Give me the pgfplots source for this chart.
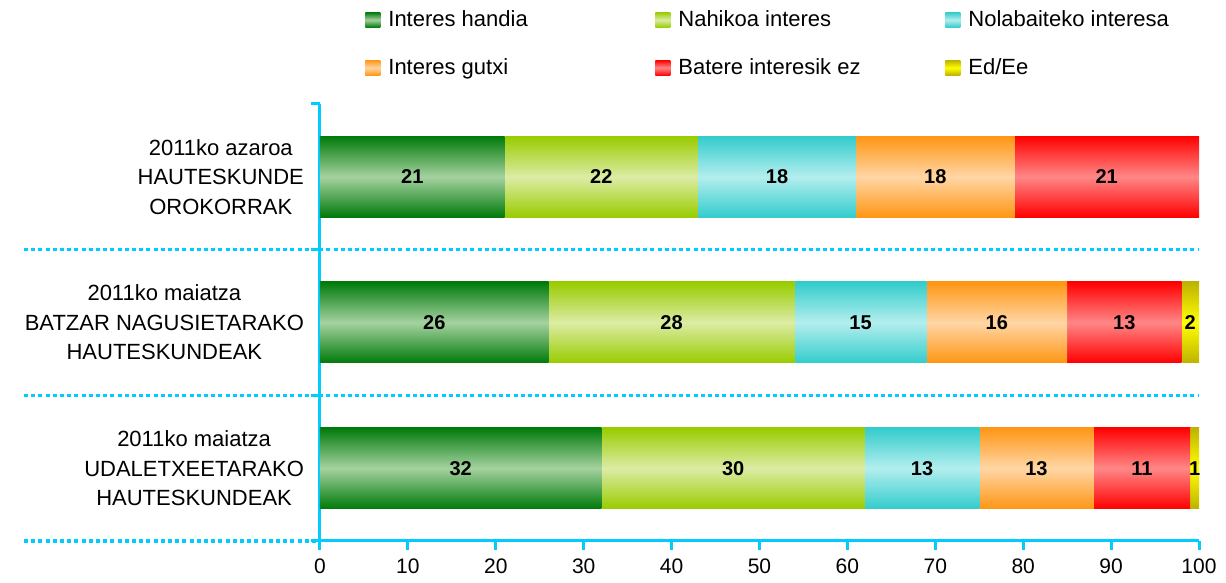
\documentclass[border=0pt]{standalone}
\usepackage{fontspec}
\setmainfont{Liberation Sans}
\usepackage{pgfplots}
\pgfplotsset{compat=1.18}

% bar colours: edge (dark) and centre (light) of the vertical gradient
\definecolor{axc}{RGB}{0,204,255}
\definecolor{ihD}{RGB}{0,122,10}
\definecolor{ihL}{RGB}{165,210,160}
\definecolor{nhD}{RGB}{153,204,0}
\definecolor{nhL}{RGB}{220,236,165}
\definecolor{noD}{RGB}{51,204,204}
\definecolor{noL}{RGB}{180,238,238}
\definecolor{igD}{RGB}{255,150,20}
\definecolor{igL}{RGB}{255,214,165}
\definecolor{bD}{RGB}{255,0,0}
\definecolor{bL}{RGB}{255,135,135}
\definecolor{eD}{RGB}{190,178,0}
\definecolor{eL}{RGB}{255,255,0}

% one axis per bar, so that every bar gets its own gradient
\pgfplotsset{
  seg/.style 2 args={draw=none, top color=#1, bottom color=#1, middle color=#2},
  base/.style={
    xbar stacked,
    scale only axis,
    width=439.5pt, height=218.5pt,
    xmin=0, xmax=100, ymin=-0.5, ymax=2.5,
    bar width=0.556,
    /pgf/number format/assume math mode=true,
    visualization depends on={rawx \as \rawx},
    nodes near coords={\ifdim\rawx pt>0pt\pgfmathprintnumber{\rawx}\fi},
    nodes near coords style={font=\bfseries\fontsize{10}{12}\selectfont,
      anchor=center},
  },
}
\tikzset{sepline/.style={axc, line width=1.6pt, dash pattern=on 2pt off 1.6pt}}

\begin{document}
\begin{tikzpicture}
\begin{axis}[
  base,
  clip=false,
  axis x line*=bottom, axis y line*=left,
  axis line style={axc, line width=1.5pt, -},
  xtick={0,10,...,100},
  ytick={0,1,2},
  yticklabels={{2011ko maiatza\\UDALETXEETARAKO\\HAUTESKUNDEAK},
               {2011ko maiatza\\BATZAR NAGUSIETARAKO\\HAUTESKUNDEAK},
               {2011ko azaroa\\HAUTESKUNDE\\OROKORRAK}},
  minor ytick={-0.5,0.5,1.5,2.5},
  tick align=outside,
  major tick length=4.5pt, minor tick length=4.5pt,
  tick style={axc, line width=1.5pt},
  major y tick style={draw=none},
  yticklabel style={align=center, font=\fontsize{11}{14.75}\selectfont},
  xticklabel style={font=\fontsize{10.5}{12}\selectfont, yshift=-1pt},
  legend columns=3,
  legend image code/.code={\path[#1] (0pt,-3.75pt) rectangle (7.5pt,3.75pt);
    \path (11pt,0pt);},
  legend style={at={(axis description cs:0,1)}, anchor=north west,
    xshift=22.5pt, yshift=47.5pt, draw=none, inner sep=0pt, row sep=13.5pt,
    font=\fontsize{11}{13}\selectfont, nodes={inner sep=0.5pt}},
]
% 2011ko maiatza, udaletxeetarako hauteskundeak
\addplot[seg={ihD}{ihL}] coordinates {(32,0)};
\addlegendentry{\makebox[133pt][l]{Interes handia}}
\addplot[seg={nhD}{nhL}] coordinates {(30,0)};
\addlegendentry{\makebox[133pt][l]{Nahikoa interes}}
\addplot[seg={noD}{noL}] coordinates {(13,0)};
\addlegendentry{\makebox[133pt][l]{Nolabaiteko interesa}}
\addplot[seg={igD}{igL}] coordinates {(13,0)};
\addlegendentry{\makebox[133pt][l]{Interes gutxi}}
\addplot[seg={bD}{bL}] coordinates {(11,0)};
\addlegendentry{\makebox[133pt][l]{Batere interesik ez}}
\addplot[seg={eD}{eL}] coordinates {(1,0)};
\addlegendentry{\makebox[133pt][l]{Ed/Ee}}

\draw[sepline] ([xshift=-148pt]axis cs:0,-0.5) -- (axis cs:0,-0.5);
\draw[sepline] ([xshift=-148pt]axis cs:0,0.5) -- (axis cs:100,0.5);
\draw[sepline] ([xshift=-148pt]axis cs:0,1.5) -- (axis cs:100,1.5);

\coordinate (bl) at (rel axis cs:0,0);
\coordinate (tr) at (rel axis cs:1,1);
\end{axis}

% 2011ko maiatza, batzar nagusietarako hauteskundeak
\begin{axis}[base, hide axis]
\addplot[seg={ihD}{ihL}] coordinates {(26,1)};
\addplot[seg={nhD}{nhL}] coordinates {(28,1)};
\addplot[seg={noD}{noL}] coordinates {(15,1)};
\addplot[seg={igD}{igL}] coordinates {(16,1)};
\addplot[seg={bD}{bL}] coordinates {(13,1)};
\addplot[seg={eD}{eL}] coordinates {(2,1)};
\end{axis}

% 2011ko azaroa, hauteskunde orokorrak
\begin{axis}[base, hide axis]
\addplot[seg={ihD}{ihL}] coordinates {(21,2)};
\addplot[seg={nhD}{nhL}] coordinates {(22,2)};
\addplot[seg={noD}{noL}] coordinates {(18,2)};
\addplot[seg={igD}{igL}] coordinates {(18,2)};
\addplot[seg={bD}{bL}] coordinates {(21,2)};
\end{axis}

\pgfresetboundingbox
\path ([shift={(-160pt,-21pt)}]bl) rectangle ([shift={(13.5pt,52pt)}]tr);
\end{tikzpicture}
\end{document}
